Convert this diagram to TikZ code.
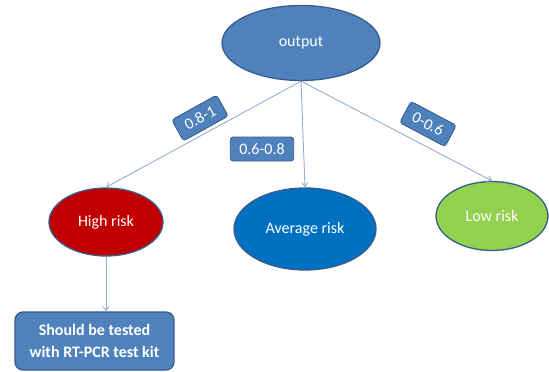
\documentclass[tikz,border=0pt]{standalone}
\usepackage{fontspec}
\setmainfont{Carlito}
\usetikzlibrary{shapes.geometric,arrows.meta}
\definecolor{offblue}{HTML}{4F81BD}
\definecolor{offborder}{HTML}{385D8A}
\definecolor{hired}{HTML}{C00000}
\definecolor{avblue}{HTML}{0070C0}
\definecolor{lowgreen}{HTML}{92D050}
\definecolor{linecol}{RGB}{150,172,206}
\tikzset{
  oval/.style={ellipse, draw=offborder, line width=1.3pt, inner sep=0pt, text=white, font=\fontsize{16}{19}\selectfont},
  lab/.style={rectangle, rounded corners=3pt, fill=offblue, draw=offborder, line width=0.9pt, text=white, inner xsep=9pt, inner ysep=0pt, minimum height=24pt, font=\fontsize{16}{19}\selectfont},
  conn/.style={draw=linecol, line width=0.9pt, -{Straight Barb[length=4pt,width=6pt]}},
}
\begin{document}
\begin{tikzpicture}[x=1pt,y=-1pt]
\useasboundingbox (0,0) rectangle (549,372);
\node[oval, fill=offblue, minimum width=158pt, minimum height=75pt] (out) at (301,43) {output};
\node[oval, fill=hired, minimum width=114pt, minimum height=68pt] (hr) at (106,222) {High risk};
\node[oval, fill=avblue, minimum width=142pt, minimum height=82pt] (av) at (305,229) {Average risk};
\node[oval, fill=lowgreen, minimum width=112pt, minimum height=69pt] (lr) at (492,216) {Low risk};
\node[rectangle, rounded corners=8pt, fill=offblue, draw=offborder, line width=1.3pt, text=white, align=center,
  minimum width=159pt, minimum height=58pt, font=\bfseries\fontsize{16}{22}\selectfont] (box) at (94.5,341) {Should be tested\\with RT-PCR test kit};
\draw[conn] (out.south) -- (hr.north);
\draw[conn] (out.south) -- (av.north);
\draw[conn] (out.south) -- (lr.north);
\draw[conn] (hr.south) -- (hr.south |- box.north);
\node[lab, rotate=29] (l1) at (200,118) {0.8-1};
\node[lab] (l2) at (262,149) {0.6-0.8};
\node[lab, rotate=-28] (l3) at (428,124) {0-0.6};
\end{tikzpicture}
\end{document}
